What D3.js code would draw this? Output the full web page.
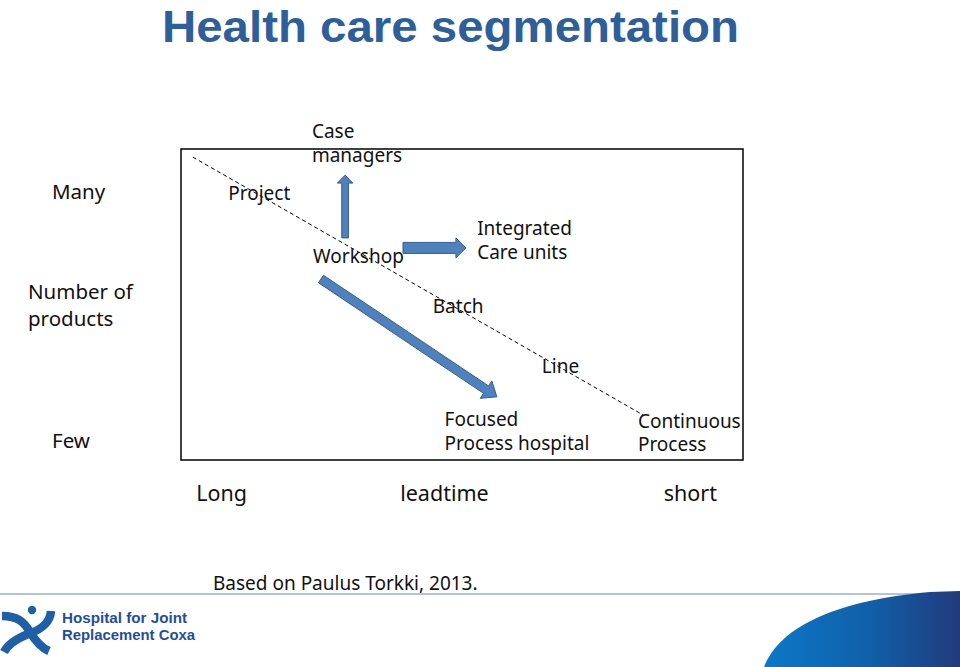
<!DOCTYPE html>
<html>
<head>
<meta charset="utf-8">
<script src="https://cdn.jsdelivr.net/npm/d3@7"></script>
<style>
  html, body { margin: 0; padding: 0; background: #fff; }
  svg { display: block; }
</style>
</head>
<body>
<svg id="chart" width="960" height="667"></svg>
<script>
// ---- Data (conceptual coordinates: leadtime 0 = Long .. 100 = short; products 0 = Few .. 100 = Many)
const title = "Health care segmentation";
const segments = ["Project", "Case|managers", "Workshop", "Integrated|Care units", "Batch", "Line", "Focused|Process hospital", "Continuous|Process"];
const segLeadtime = [8.4, 23.3, 23.5, 52.7, 44.8, 64.2, 46.9, 81.3];
const segProducts = [83.6, 103.5, 63.3, 72.3, 47.3, 28.0, 10.9, 10.3];

const yAxisLabels = ["Many", "Number of|products", "Few"];
const yAxisValues = [83.9, 51.8, 3.9];
const xAxisLabels = ["Long", "leadtime", "short"];
const xAxisValues = [2.7, 39.0, 85.9];

// dashed diagonal (process-product matrix)
const diagFrom = [2.1, 97.4];
const diagTo = [82.2, 14.5];

// arrows: [fromLeadtime, fromProducts, toLeadtime, toProducts]
const arrows = [
  [29.2, 71.4, 29.2, 91.6],
  [39.5, 68.2, 50.7, 68.2],
  [24.9, 58.2, 56.2, 20.3]
];
const arrowShaft = [6.7, 11, 9];
const arrowHeadW = [15.5, 20, 21];
const arrowHeadL = [8, 10, 13];

const source = "Based on Paulus Torkki, 2013.";
const logoLines = ["Hospital for Joint", "Replacement Coxa"];

// ---- Drawing
const svg = d3.select("#chart");
const box = { left: 181, top: 149, right: 743, bottom: 460 };
const x = d3.scaleLinear().domain([0, 100]).range([box.left, box.right]);
const y = d3.scaleLinear().domain([0, 100]).range([box.bottom, box.top]);

const handFont = "'Noto Sans', 'DejaVu Sans', sans-serif";

// Title
svg.append("text")
  .attr("x", 162).attr("y", 41.5)
  .attr("font-family", "'Liberation Sans', Arial, sans-serif")
  .attr("font-weight", "bold")
  .attr("font-size", 45)
  .attr("textLength", 577)
  .attr("lengthAdjust", "spacingAndGlyphs")
  .attr("fill", "#2f5f98")
  .text(title);

// Frame
svg.append("rect")
  .attr("x", x(0)).attr("y", y(100))
  .attr("width", x(100) - x(0)).attr("height", y(0) - y(100))
  .attr("fill", "none").attr("stroke", "#000").attr("stroke-width", 1.5);

// Dashed diagonal
svg.append("line")
  .attr("x1", x(diagFrom[0])).attr("y1", y(diagFrom[1]))
  .attr("x2", x(diagTo[0])).attr("y2", y(diagTo[1]))
  .attr("stroke", "#000").attr("stroke-width", 1)
  .attr("stroke-dasharray", "4,3");

// Block arrows
function blockArrow(x1, y1, x2, y2, sw, hw, hl) {
  const dx = x2 - x1, dy = y2 - y1;
  const len = Math.hypot(dx, dy);
  const ux = dx / len, uy = dy / len;
  const px = -uy, py = ux;
  const bx = x2 - ux * hl, by = y2 - uy * hl;
  const pts = [
    [x1 + px * sw / 2, y1 + py * sw / 2],
    [bx + px * sw / 2, by + py * sw / 2],
    [bx + px * hw / 2, by + py * hw / 2],
    [x2, y2],
    [bx - px * hw / 2, by - py * hw / 2],
    [bx - px * sw / 2, by - py * sw / 2],
    [x1 - px * sw / 2, y1 - py * sw / 2]
  ];
  return d3.line()(pts) + "Z";
}
svg.append("g").selectAll("path")
  .data(arrows)
  .join("path")
  .attr("d", (d, i) => blockArrow(x(d[0]), y(d[1]), x(d[2]), y(d[3]), arrowShaft[i], arrowHeadW[i], arrowHeadL[i]))
  .attr("fill", "#4f81bd")
  .attr("stroke", "#385d8a")
  .attr("stroke-width", 1)
  .attr("stroke-linejoin", "miter");

// Segment labels
function multiText(g, label, px, py, lh) {
  const t = g.append("text").attr("x", px).attr("y", py);
  label.split("|").forEach((line, i) => {
    t.append("tspan").attr("x", px).attr("y", py + i * lh).text(line);
  });
  return t;
}
const segG = svg.append("g")
  .attr("font-family", handFont).attr("font-size", 19).attr("fill", "#111");
segments.forEach((s, i) => multiText(segG, s, x(segLeadtime[i]), y(segProducts[i]), 23.5));

// Y axis labels (outside frame)
const yG = svg.append("g")
  .attr("font-family", handFont).attr("font-size", 20.5).attr("fill", "#111");
yAxisLabels.forEach((s, i) => {
  const px = i === 1 ? 28 : 52;
  multiText(yG, s, px, y(yAxisValues[i]), 27);
});

// X axis labels
const xG = svg.append("g")
  .attr("font-family", handFont).attr("font-size", 21.5).attr("fill", "#111");
xAxisLabels.forEach((s, i) => {
  xG.append("text").attr("x", x(xAxisValues[i])).attr("y", 501).text(s);
});

// Source
svg.append("text")
  .attr("x", 213).attr("y", 590)
  .attr("font-family", handFont).attr("font-size", 19).attr("fill", "#111")
  .text(source);

// Footer separator
svg.append("line")
  .attr("x1", 0).attr("x2", 960).attr("y1", 594).attr("y2", 594)
  .attr("stroke", "#b3c4d6").attr("stroke-width", 2);

// Bottom-right gradient swoosh
const defs = svg.append("defs");
const grad = defs.append("linearGradient").attr("id", "swoosh")
  .attr("x1", "0%").attr("x2", "100%").attr("y1", "0%").attr("y2", "0%");
grad.append("stop").attr("offset", "0%").attr("stop-color", "#0c78c8");
grad.append("stop").attr("offset", "55%").attr("stop-color", "#115fa8");
grad.append("stop").attr("offset", "100%").attr("stop-color", "#213a7c");
svg.append("path")
  .attr("d", "M764,667 C780,625 840,600 930,592 L960,591 L960,667 Z")
  .attr("fill", "url(#swoosh)");

// Logo figure
const logo = svg.append("g").attr("fill", "none").attr("stroke", "#1f5fa8")
  .attr("stroke-width", 8.5).attr("stroke-linecap", "butt");
logo.append("path").attr("d", "M2,616 C18,616 24,622 30,632 C36,642 42,648 49,651");
logo.append("path").attr("d", "M51,611 C50,624 40,630 28,634 C16,639 8,644 4,652");
svg.append("circle").attr("cx", 32).attr("cy", 610).attr("r", 4.2).attr("fill", "#1f5fa8");

// Logo text
const logoG = svg.append("g")
  .attr("font-family", "'Liberation Sans', Arial, sans-serif")
  .attr("font-weight", "bold").attr("font-size", 14).attr("fill", "#1f4f9c");
logoG.append("text").attr("x", 62).attr("y", 623).attr("textLength", 125).attr("lengthAdjust", "spacingAndGlyphs").text(logoLines[0]);
logoG.append("text").attr("x", 62).attr("y", 640).attr("textLength", 133).attr("lengthAdjust", "spacingAndGlyphs").text(logoLines[1]);
</script>
</body>
</html>
